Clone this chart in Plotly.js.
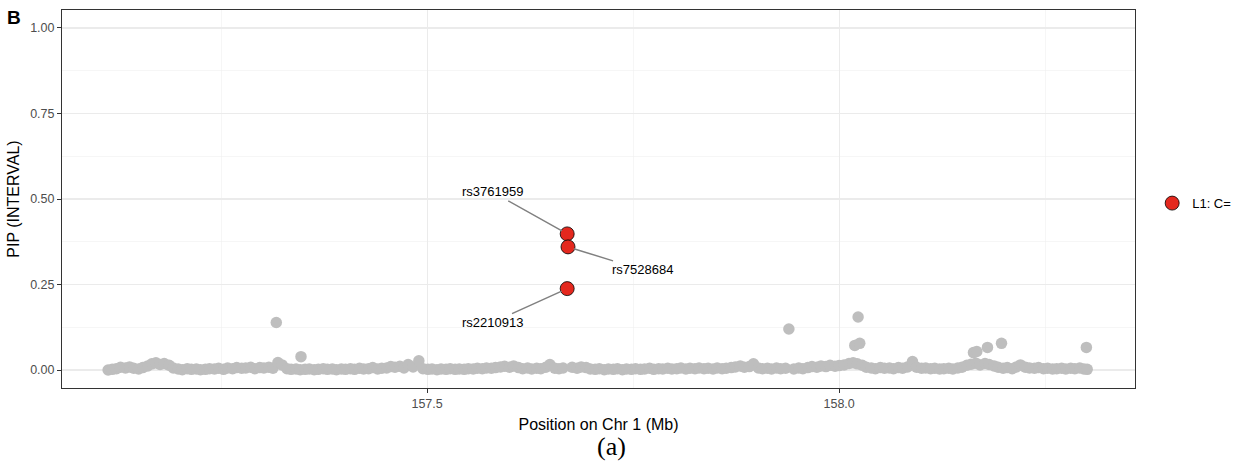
<!DOCTYPE html>
<html>
<head>
<meta charset="utf-8">
<script src="https://cdn.plot.ly/plotly-3.0.1.min.js"></script>
<style>html,body{margin:0;padding:0;background:#fff;}#chart{width:1247px;height:466px;}</style>
</head>
<body>
<div id="chart"></div>
<script>
// Background variants (grey): position on Chr 1 (Mb) and PIP
const bgPos = [
157.113,157.118,157.123,157.128,157.134,157.139,157.144,157.150,157.155,157.161,
157.166,157.171,157.176,157.181,157.187,157.192,157.198,157.203,157.209,157.214,
157.220,157.225,157.231,157.236,157.242,157.247,157.253,157.258,157.264,157.269,
157.275,157.280,157.286,157.291,157.297,157.302,157.308,157.313,157.319,157.324,
157.330,157.335,157.341,157.346,157.352,157.357,157.363,157.368,157.374,157.379,
157.385,157.390,157.396,157.401,157.407,157.412,157.418,157.423,157.429,157.434,
157.440,157.445,157.451,157.456,157.461,157.467,157.472,157.477,157.483,157.490,
157.495,157.501,157.506,157.512,157.517,157.523,157.528,157.534,157.539,157.545,
157.550,157.556,157.561,157.567,157.572,157.578,157.583,157.589,157.594,157.600,
157.605,157.611,157.616,157.622,157.627,157.633,157.638,157.644,157.649,157.655,
157.660,157.665,157.676,157.682,157.687,157.693,157.698,157.704,157.709,157.715,
157.720,157.726,157.731,157.737,157.742,157.748,157.753,157.759,157.764,157.770,
157.775,157.781,157.786,157.792,157.797,157.803,157.808,157.814,157.819,157.825,
157.830,157.836,157.841,157.847,157.852,157.858,157.863,157.869,157.874,157.880,
157.885,157.891,157.896,157.902,157.907,157.913,157.918,157.924,157.929,157.935,
157.945,157.951,157.956,157.962,157.967,157.973,157.978,157.984,157.989,157.995,
158.000,158.006,158.012,158.017,158.022,158.028,158.033,158.039,158.044,158.050,
158.055,158.061,158.066,158.072,158.077,158.083,158.089,158.094,158.100,158.105,
158.111,158.116,158.122,158.127,158.133,158.138,158.144,158.149,158.155,158.160,
158.166,158.171,158.177,158.182,158.188,158.193,158.199,158.204,158.210,158.215,
158.220,158.226,158.231,158.237,158.242,158.248,158.253,158.259,158.264,158.270,
158.275,158.281,158.286,158.292,158.297,158.301,
157.317,157.347,157.939,158.019,158.025,158.023,158.163,158.167,158.180,158.197,158.300
];
const bgPip = [
0.000,0.002,0.004,0.008,0.006,0.009,0.005,0.003,0.007,0.012,
0.018,0.021,0.016,0.019,0.014,0.006,0.003,0.001,0.004,0.002,
0.003,0.001,0.002,0.004,0.003,0.005,0.002,0.006,0.004,0.007,
0.005,0.006,0.008,0.004,0.007,0.006,0.008,0.005,0.022,0.015,
0.004,0.002,0.003,0.001,0.002,0.003,0.001,0.002,0.004,0.002,
0.003,0.001,0.003,0.002,0.004,0.002,0.005,0.003,0.004,0.007,
0.003,0.005,0.006,0.010,0.008,0.011,0.006,0.016,0.009,0.027,
0.004,0.002,0.003,0.001,0.003,0.002,0.004,0.002,0.003,0.002,
0.004,0.003,0.005,0.004,0.006,0.005,0.007,0.009,0.011,0.008,
0.012,0.007,0.004,0.006,0.003,0.005,0.004,0.008,0.016,0.005,
0.004,0.006,0.008,0.005,0.009,0.007,0.003,0.002,0.004,0.001,
0.003,0.002,0.004,0.001,0.003,0.002,0.004,0.002,0.003,0.005,
0.002,0.004,0.003,0.005,0.003,0.004,0.006,0.003,0.005,0.004,
0.006,0.004,0.005,0.003,0.006,0.004,0.005,0.007,0.009,0.012,
0.008,0.010,0.018,0.006,0.004,0.005,0.003,0.006,0.004,0.005,
0.003,0.006,0.004,0.007,0.010,0.008,0.012,0.010,0.014,0.011,
0.013,0.015,0.019,0.021,0.018,0.014,0.008,0.006,0.004,0.007,
0.005,0.006,0.004,0.007,0.005,0.009,0.025,0.008,0.005,0.006,
0.004,0.005,0.003,0.004,0.005,0.003,0.006,0.008,0.014,0.017,
0.020,0.015,0.019,0.016,0.012,0.008,0.005,0.007,0.004,0.009,
0.015,0.008,0.006,0.005,0.007,0.004,0.005,0.003,0.004,0.005,
0.003,0.005,0.004,0.006,0.003,0.002,
0.139,0.039,0.120,0.072,0.078,0.155,0.051,0.054,0.066,0.078,0.066
];

// Credible set L1 variants (red)
const csLabels = ["rs3761959","rs7528684","rs2210913"];
const csPos = [157.670, 157.671, 157.670];
const csPip = [0.398, 0.360, 0.238];
const legendName = "L1: C=";

// label offsets (pixels) for repelled labels
const labelOffsets = [[-75,-42],[74,23],[-75,34]];

const traces = [
  {
    x: bgPos, y: bgPip, type: 'scatter', mode: 'markers',
    marker: {color: '#BEBEBE', size: 11.5},
    showlegend: false, hoverinfo: 'skip'
  },
  {
    x: csPos, y: csPip, type: 'scatter', mode: 'markers',
    name: legendName,
    marker: {color: '#E4281E', size: 14, line: {color: '#000000', width: 0.8}},
    hoverinfo: 'skip'
  }
];

const annotations = csLabels.map((t,i)=>({
  x: csPos[i], y: csPip[i], xref: 'x', yref: 'y',
  text: t, showarrow: true, arrowhead: 0, arrowwidth: 1.5, arrowcolor: '#808080',
  ax: labelOffsets[i][0], ay: labelOffsets[i][1], standoff: 6,
  font: {family: 'Liberation Sans, Arial, sans-serif', size: 13, color: '#000'}
}));
annotations.push({
  xref: 'paper', yref: 'paper', x: -0.053, y: 1.012, xanchor: 'left', yanchor: 'top',
  text: '<b>B</b>', showarrow: false,
  font: {family: 'Liberation Sans, Arial, sans-serif', size: 19, color: '#000'}
});
annotations.push({
  xref: 'paper', yref: 'paper', x: 0.5125, y: -0.156, xanchor: 'center', yanchor: 'middle',
  text: '(a)', showarrow: false,
  font: {family: 'Liberation Serif, Times New Roman, serif', size: 26, color: '#000'}
});

const layout = {
  width: 1247, height: 466,
  margin: {l: 62, r: 112, t: 10, b: 78, pad: 0},
  paper_bgcolor: '#fff', plot_bgcolor: '#fff',
  font: {family: 'Liberation Sans, Arial, sans-serif', color: '#4D4D4D'},
  hovermode: false,
  xaxis: {
    range: [157.057, 158.359], tickmode: 'array', tickvals: [157.5, 158.0], ticktext: ['157.5','158.0'],
    ticks: 'outside', ticklen: 4, tickwidth: 1, tickcolor: '#333',
    tickfont: {size: 12.5, color: '#4D4D4D'},
    showgrid: true, gridcolor: '#EBEBEB', gridwidth: 1.1,
    minor: {tickmode: 'array', tickvals: [157.25, 157.75, 158.25], showgrid: true, gridcolor: '#F0F0F0', gridwidth: 0.6, ticks: ''},
    zeroline: false, showline: true, linecolor: '#333', linewidth: 1, mirror: true,
    title: {text: 'Position on Chr 1 (Mb)', font: {size: 16, color: '#000'}, standoff: 8}
  },
  yaxis: {
    range: [-0.0526, 1.0526], tickmode: 'array', tickvals: [0, 0.25, 0.5, 0.75, 1.0],
    ticktext: ['0.00','0.25','0.50','0.75','1.00'],
    ticks: 'outside', ticklen: 4, tickwidth: 1, tickcolor: '#333',
    tickfont: {size: 12.5, color: '#4D4D4D'},
    showgrid: true, gridcolor: '#EBEBEB', gridwidth: 1.1,
    minor: {tickmode: 'array', tickvals: [0.125, 0.375, 0.625, 0.875], showgrid: true, gridcolor: '#F0F0F0', gridwidth: 0.6, ticks: ''},
    zeroline: false, showline: true, linecolor: '#333', linewidth: 1, mirror: true,
    title: {text: 'PIP (INTERVAL)', font: {size: 16, color: '#000'}, standoff: 6}
  },
  showlegend: true,
  legend: {
    x: 1.016, xanchor: 'left', y: 0.489, yanchor: 'middle',
    bgcolor: 'rgba(0,0,0,0)', font: {size: 13, color: '#000'}
  },
  annotations: annotations
};

Plotly.newPlot('chart', traces, layout, {staticPlot: true, displayModeBar: false});
</script>
</body>
</html>
